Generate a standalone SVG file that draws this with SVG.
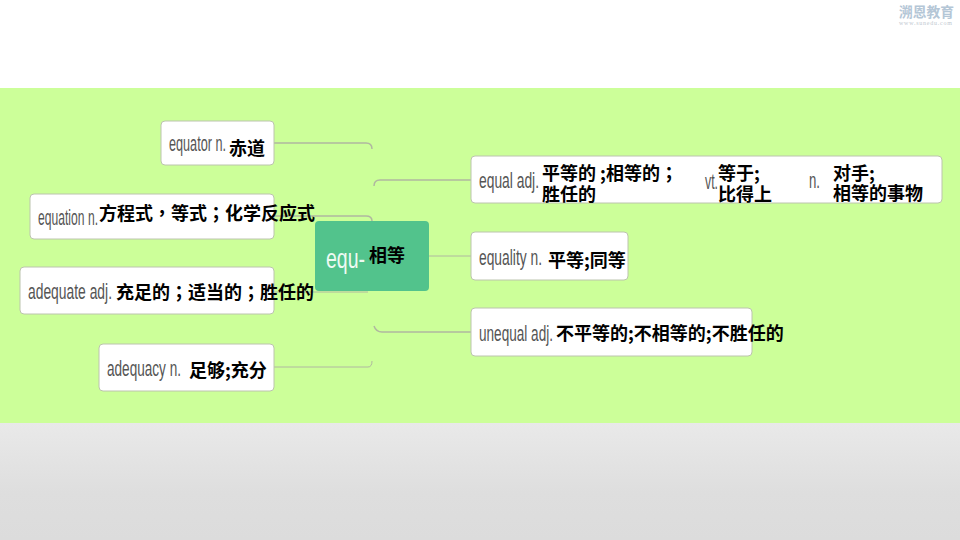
<svg xmlns="http://www.w3.org/2000/svg" width="960" height="540" viewBox="0 0 960 540">
<style>
.box{fill:#fff;stroke:#bcc4ae;stroke-width:1}
.en{font-family:"Liberation Sans",sans-serif;font-size:22px;fill:#555}
.zh{font-family:"Noto Sans CJK SC",sans-serif;font-size:18px;font-weight:700;fill:#000}
.p{font-family:"Noto Sans CJK TC",sans-serif}
.c{fill:none;stroke:#b0b8a0;stroke-width:1.5}
.t{stroke-width:1}
</style>
<defs><linearGradient id="g" x1="0" y1="0" x2="0" y2="1"><stop offset="0" stop-color="#e9e9e9"/><stop offset="0.6" stop-color="#dedede"/><stop offset="1" stop-color="#dcdcdc"/></linearGradient></defs>
<rect width="960" height="88" fill="#fff"/>
<rect y="88" width="960" height="335" fill="#ccff99"/>
<rect y="423" width="960" height="117" fill="url(#g)"/>
<g id="logo">
<text x="899" y="17" font-family="'Noto Sans CJK SC',sans-serif" font-size="14" font-weight="700" fill="#b4c6d6" textLength="55" lengthAdjust="spacingAndGlyphs">溯恩教育</text>
<text x="899" y="25" font-family="'Liberation Serif',serif" font-size="6" fill="#c0c8d0" textLength="53">www.sunedu.com</text>
</g>
<g id="connectors">
<path class="c" d="M274 143H366Q372 143 372 149"/>
<path class="c" d="M374 186Q374 180 380 180H471"/>
<path class="c" d="M274 216H366Q372 216 372 221"/>
<path class="c t" d="M274 292H368"/>
<path class="c t" d="M274 367H368Q372 367 372 361"/>
<path class="c t" d="M428 256H471"/>
<path class="c" d="M374 326Q376 332 382 332H471"/>
</g>
<g id="n-equator"><rect class="box" x="161" y="121" width="113" height="44" rx="4"/>
<text class="en" x="169" y="151" textLength="57" lengthAdjust="spacingAndGlyphs">equator n.</text><text class="zh" x="229" y="155">赤道</text></g>
<g id="n-equation"><rect class="box" x="30" y="194" width="244" height="45" rx="4"/>
<text class="en" x="38" y="225" textLength="60" lengthAdjust="spacingAndGlyphs">equation n.</text><text class="zh" x="99" y="220">方程式<tspan class="p">，</tspan>等式<tspan class="p">；</tspan>化学反应式</text></g>
<g id="n-adequate"><rect class="box" x="20" y="267" width="254" height="47" rx="4"/>
<text class="en" x="28" y="299" textLength="84" lengthAdjust="spacingAndGlyphs">adequate adj.</text><text class="zh" x="116" y="299">充足的<tspan class="p">；</tspan>适当的<tspan class="p">；</tspan>胜任的</text></g>
<g id="n-adequacy"><rect class="box" x="99" y="344" width="175" height="47" rx="4"/>
<text class="en" x="107" y="376" textLength="74" lengthAdjust="spacingAndGlyphs">adequacy n.</text><text class="zh" x="189" y="377">足够;充分</text></g>
<g id="n-center"><rect x="315" y="221" width="114" height="70" rx="4" fill="#52c38c"/>
<text x="326" y="268" font-family="'Liberation Sans',sans-serif" font-size="28" fill="#eefaf3" textLength="39" lengthAdjust="spacingAndGlyphs">equ-</text><text class="zh" x="369" y="262">相等</text></g>
<g id="n-equal"><rect class="box" x="471" y="156" width="471" height="47" rx="4"/>
<text class="en" x="479" y="188" textLength="60" lengthAdjust="spacingAndGlyphs">equal adj.</text><text class="zh" x="542" y="180">平等的 ;相等的<tspan class="p">；</tspan></text><text class="zh" x="542" y="201">胜任的</text>
<text class="en" x="705" y="189" textLength="13" lengthAdjust="spacingAndGlyphs">vt.</text><text class="zh" x="718" y="180">等于;</text><text class="zh" x="718" y="201">比得上</text>
<text class="en" x="809" y="188" textLength="11" lengthAdjust="spacingAndGlyphs">n.</text><text class="zh" x="833" y="180">对手;</text><text class="zh" x="833" y="200">相等的事物</text></g>
<g id="n-equality"><rect class="box" x="471" y="232" width="157" height="48" rx="4"/>
<text class="en" x="479" y="265" textLength="63" lengthAdjust="spacingAndGlyphs">equality n.</text><text class="zh" x="548" y="267">平等;同等</text></g>
<g id="n-unequal"><rect class="box" x="471" y="308" width="281" height="48" rx="4"/>
<text class="en" x="479" y="341" textLength="74" lengthAdjust="spacingAndGlyphs">unequal adj.</text><text class="zh" x="556" y="340">不平等的;不相等的;不胜任的</text></g>
</svg>
